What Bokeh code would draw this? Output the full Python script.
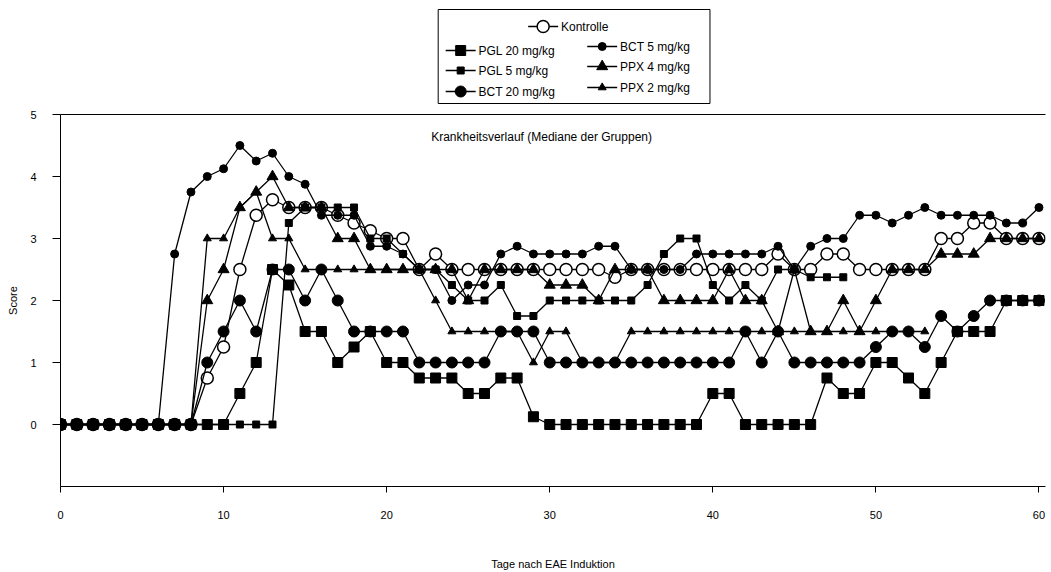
from bokeh.plotting import figure
from bokeh.layouts import column
from bokeh.models import Range1d, FixedTicker, LinearAxis, Label
from bokeh.embed import file_html
from bokeh.resources import INLINE
from bokeh.core.properties import value

FONT = "Liberation Sans"

# ---------------- data (median scores per day) ----------------
days = list(range(61))
x_ticks = [0, 10, 20, 30, 40, 50, 60]
y_ticks = [0, 1, 2, 3, 4, 5]

kontrolle = [0, 0, 0, 0, 0, 0, 0, 0, 0, 0.75,
             1.25, 2.5, 3.375, 3.625, 3.5, 3.5, 3.5, 3.375, 3.25, 3.125,
             3.0, 3.0, 2.5, 2.75, 2.5, 2.5, 2.5, 2.5, 2.5, 2.5,
             2.5, 2.5, 2.5, 2.5, 2.375, 2.5, 2.5, 2.5, 2.5, 2.5,
             2.5, 2.5, 2.5, 2.5, 2.75, 2.5, 2.5, 2.75, 2.75, 2.5,
             2.5, 2.5, 2.5, 2.5, 3.0, 3.0, 3.25, 3.25, 3.0, 3.0, 3.0]

pgl20 = [0, 0, 0, 0, 0, 0, 0, 0, 0, 0,
         0, 0.5, 1.0, 2.5, 2.25, 1.5, 1.5, 1.0, 1.25, 1.5,
         1.0, 1.0, 0.75, 0.75, 0.75, 0.5, 0.5, 0.75, 0.75, 0.125,
         0, 0, 0, 0, 0, 0, 0, 0, 0, 0,
         0.5, 0.5, 0, 0, 0, 0, 0, 0.75, 0.5, 0.5,
         1.0, 1.0, 0.75, 0.5, 1.0, 1.5, 1.5, 1.5, 2.0, 2.0, 2.0]

pgl5 = [0, 0, 0, 0, 0, 0, 0, 0, 0, 0,
        0, 0, 0, 0, 3.25, 3.5, 3.5, 3.5, 3.5, 3.0,
        3.0, 2.75, 2.5, 2.5, 2.25, 2.0, 2.0, 2.25, 1.75, 1.75,
        2.0, 2.0, 2.0, 2.0, 2.0, 2.0, 2.25, 2.75, 3.0, 3.0,
        2.25, 2.0, 2.25, 2.0, 2.5, 2.5, 2.375, 2.375, 2.375]

bct20 = [0, 0, 0, 0, 0, 0, 0, 0, 0, 1.0,
         1.5, 2.0, 1.5, 2.5, 2.5, 2.0, 2.5, 2.0, 1.5, 1.5,
         1.5, 1.5, 1.0, 1.0, 1.0, 1.0, 1.0, 1.5, 1.5, 1.5,
         1.0, 1.0, 1.0, 1.0, 1.0, 1.0, 1.0, 1.0, 1.0, 1.0,
         1.0, 1.0, 1.5, 1.0, 1.5, 1.0, 1.0, 1.0, 1.0, 1.0,
         1.25, 1.5, 1.5, 1.25, 1.75, 1.5, 1.75, 2.0, 2.0, 2.0, 2.0]

bct5 = [0, 0, 0, 0, 0, 0, 0, 2.75, 3.75, 4.0,
        4.125, 4.5, 4.25, 4.375, 4.0, 3.875, 3.375, 3.375, 3.375, 2.875,
        2.875, 2.75, 2.5, 2.5, 2.0, 2.25, 2.25, 2.75, 2.875, 2.75,
        2.75, 2.75, 2.75, 2.875, 2.875, 2.5, 2.5, 2.5, 2.5, 2.75,
        2.75, 2.75, 2.75, 2.75, 2.875, 2.5, 2.875, 3.0, 3.0, 3.375,
        3.375, 3.25, 3.375, 3.5, 3.375, 3.375, 3.375, 3.375, 3.25, 3.25, 3.5]

ppx4 = [0, 0, 0, 0, 0, 0, 0, 0, 0, 2.0,
        2.5, 3.5, 3.75, 4.0, 3.5, 3.5, 3.5, 3.0, 3.0, 2.5,
        2.5, 2.5, 2.5, 2.5, 2.5, 2.0, 2.5, 2.5, 2.5, 2.5,
        2.25, 2.25, 2.25, 2.0, 2.5, 2.5, 2.5, 2.0, 2.0, 2.0,
        2.0, 2.5, 2.0, 2.0, 1.5, 2.5, 1.5, 1.5, 2.0, 1.5,
        2.0, 2.5, 2.5, 2.5, 2.75, 2.75, 2.75, 3.0, 3.0, 3.0, 3.0]

ppx2 = [0, 0, 0, 0, 0, 0, 0, 0, 0, 3.0,
        3.0, 3.5, 3.75, 3.0, 3.0, 2.5, 2.5, 2.5, 2.5, 2.5,
        2.5, 2.5, 2.5, 2.0, 1.5, 1.5, 1.5, 1.5, 1.5, 1.0,
        1.5, 1.5, 1.0, 1.0, 1.0, 1.5, 1.5, 1.5, 1.5, 1.5,
        1.5, 1.5, 1.5, 1.5, 1.5, 1.5, 1.5, 1.5, 1.5, 1.5,
        1.5, 1.5, 1.5, 1.5]

names = ["Kontrolle", "PGL 20 mg/kg", "PGL 5 mg/kg", "BCT 20 mg/kg",
         "BCT 5 mg/kg", "PPX 4 mg/kg", "PPX 2 mg/kg"]
values = [kontrolle, pgl20, pgl5, bct20, bct5, ppx4, ppx2]

# styles
markers = ["circle", "square", "square", "circle", "circle", "triangle", "triangle"]
sizes = [12, 10, 7, 11, 8, 11, 8]
fills = ["white", "black", "black", "black", "black", "black", "black"]
mlw = [1.5, 1, 1, 1, 1, 1, 1]

# ---------------- main plot ----------------
p = figure(width=1051, height=462, x_range=Range1d(0, 60.4), y_range=Range1d(-1, 5),
           output_backend="svg", toolbar_location=None,
           min_border_left=60, min_border_right=6, min_border_top=4, min_border_bottom=86)
p.grid.visible = False
p.outline_line_color = None
p.background_fill_color = "white"
p.border_fill_color = "white"

for vals, mk, sz, fc, lw in zip(values, markers, sizes, fills, mlw):
    xs = days[:len(vals)]
    p.line(xs, vals, line_color="black", line_width=1.3)
    p.scatter(xs, vals, marker=mk, size=sz, fill_color=fc, line_color="black", line_width=lw)

xa = p.xaxis[0]
xa.ticker = FixedTicker(ticks=x_ticks)
xa.major_tick_out = 6
xa.major_tick_in = 0
xa.minor_tick_out = 0
xa.minor_tick_in = 0
xa.axis_line_color = "black"
xa.major_tick_line_color = "black"
xa.major_label_text_font = FONT
xa.major_label_text_font_size = "11px"
xa.major_label_text_color = "black"
xa.major_label_standoff = 18
xa.axis_label = "Tage nach EAE Induktion"
xa.axis_label_text_font = FONT
xa.axis_label_text_font_size = "11px"
xa.axis_label_text_font_style = "normal"
xa.axis_label_text_color = "black"
xa.axis_label_standoff = 36

ya = p.yaxis[0]
ya.ticker = FixedTicker(ticks=y_ticks)
ya.major_tick_out = 8
ya.major_tick_in = 0
ya.minor_tick_out = 0
ya.minor_tick_in = 0
ya.axis_line_color = "black"
ya.major_tick_line_color = "black"
ya.major_label_text_font = FONT
ya.major_label_text_font_size = "11px"
ya.major_label_text_color = "black"
ya.major_label_standoff = 16
ya.axis_label = "Score"
ya.axis_label_text_font = FONT
ya.axis_label_text_font_size = "11px"
ya.axis_label_text_font_style = "normal"
ya.axis_label_text_color = "black"
ya.axis_label_standoff = 8

top = LinearAxis(ticker=FixedTicker(ticks=[]), major_tick_out=0, major_tick_in=0,
                 minor_tick_out=0, minor_tick_in=0, major_label_standoff=0,
                 axis_line_color="black")
p.add_layout(top, "above")

p.add_layout(Label(x=29.5, y=4.63, text="Krankheitsverlauf (Mediane der Gruppen)",
                   text_align="center", text_baseline="middle", text_font=FONT,
                   text_font_size="12px", text_color="black"))

# ---------------- legend (separate strip above) ----------------
lg = figure(width=1051, height=110, x_range=Range1d(0, 1051), y_range=Range1d(110, 0),
            output_backend="svg", toolbar_location=None, x_axis_type=None, y_axis_type=None,
            min_border=0)
lg.outline_line_color = None
lg.grid.visible = False
lg.quad(left=[403], right=[693], top=[9], bottom=[103], fill_color=None,
        line_color="black", line_width=1)

leg_mx = [515, 427, 427, 427, 578, 578, 578]
leg_y = [26, 50, 70, 91, 46, 66, 87]
for name, mk, sz, fc, lw, mx, my in zip(names, markers, sizes, fills, mlw, leg_mx, leg_y):
    lg.segment(x0=[mx - 16], y0=[my], x1=[mx + 16], y1=[my], line_color="black", line_width=1.3)
    lg.scatter([mx], [my], marker=mk, size=sz, fill_color=fc, line_color="black", line_width=lw)
    lg.text(x=[mx + 19], y=[my], text=[name], text_font=value(FONT), text_font_size="12px",
            text_baseline="middle", text_align="left", text_color="black")

layout = column(lg, p, spacing=0)
open("out.html", "w").write(file_html(layout, INLINE))
